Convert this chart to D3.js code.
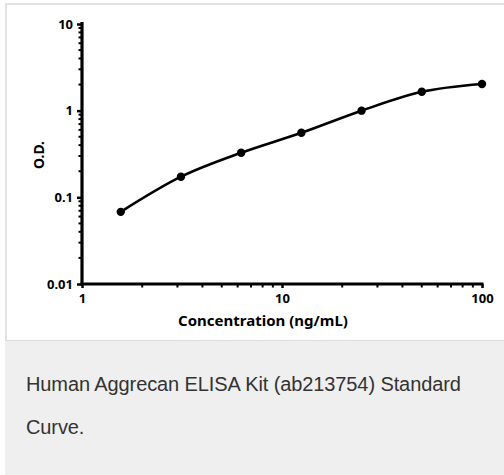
<!DOCTYPE html>
<html>
<head>
<meta charset="utf-8">
<script src="https://cdn.jsdelivr.net/npm/d3@7"></script>
<style>
  body { margin: 0; background: #fff; width: 504px; height: 475px; overflow: hidden; position: relative; }
  #frame { position: absolute; left: 5px; top: 3px; width: 520px; height: 337px; border-top: 2px solid #e2e2e2; border-left: 2px solid #e2e2e2; box-sizing: border-box; }
  #svg1 { position: absolute; left: 0; top: 0; }
  #caption { position: absolute; left: 5px; top: 340px; width: 520px; height: 135px; background: #eeefee; border-top: 1px solid #dcdcdc; box-sizing: border-box;
    font-family: "Liberation Sans", Arial, sans-serif; font-size: 20px; color: #333; line-height: 43px; padding: 22px 0 0 21px; letter-spacing: -0.1px; }
</style>
</head>
<body>
<div id="frame"></div>
<svg id="svg1" width="504" height="340"></svg>
<div id="caption">Human Aggrecan ELISA Kit (ab213754) Standard<br>Curve.</div>
<script>
    // standard curve values
    var concentration = [1.5625, 3.125, 6.25, 12.5, 25, 50, 100];
    var od = [0.068, 0.173, 0.327, 0.556, 1.0, 1.65, 2.03];
    var xTicks = [1, 10, 100];
    var yTicks = [0.01, 0.1, 1, 10];
    var xLabel = "Concentration (ng/mL)";
    var yLabel = "O.D.";

    var svg = d3.select("#svg1");
    var font = "'Noto Sans', 'DejaVu Sans', sans-serif";

    var x = d3.scaleLog().domain([1, 100]).range([82, 482]);
    var y = d3.scaleLog().domain([0.01, 10]).range([284, 24]);

    // minor ticks
    var minorX = [], minorY = [];
    [1, 10].forEach(function (d) { for (var i = 2; i <= 9; i++) minorX.push(d * i); });
    [0.01, 0.1, 1].forEach(function (d) { for (var i = 2; i <= 9; i++) minorY.push(d * i); });

    svg.selectAll(".mx").data(minorX).enter().append("line")
        .attr("x1", function (d) { return x(d); }).attr("x2", function (d) { return x(d); })
        .attr("y1", 284).attr("y2", 287.5)
        .attr("stroke", "#000").attr("stroke-width", 2);
    svg.selectAll(".my").data(minorY).enter().append("line")
        .attr("y1", function (d) { return y(d); }).attr("y2", function (d) { return y(d); })
        .attr("x1", 78.5).attr("x2", 82)
        .attr("stroke", "#000").attr("stroke-width", 2);

    var xAxis = d3.axisBottom(x).tickValues(xTicks).tickFormat(d3.format("")).tickSize(4).tickPadding(6);
    var yAxis = d3.axisLeft(y).tickValues(yTicks).tickFormat(function (d) { return d; }).tickSize(5).tickPadding(4);

    var gx = svg.append("g").attr("transform", "translate(0,284)").call(xAxis);
    var gy = svg.append("g").attr("transform", "translate(82,0)").call(yAxis);

    [gx, gy].forEach(function (g) {
        g.select(".domain").attr("stroke", "#000").attr("stroke-width", 3.2);
        g.selectAll(".tick line").attr("stroke", "#000").attr("stroke-width", 2.5);
        g.selectAll(".tick text").attr("fill", "#000").style("font-family", font)
            .style("font-size", "13px").style("font-weight", "bold");
    });
    gx.select(".domain").attr("d", "M80.5,0H483.5");
    gy.select(".domain").attr("d", "M0,285.5V22");

    // curve
    var pts = concentration.map(function (c, i) { return [x(c), y(od[i])]; });
    svg.append("path")
        .attr("d", d3.line().curve(d3.curveMonotoneX)(pts))
        .attr("fill", "none").attr("stroke", "#000").attr("stroke-width", 2.6);

    svg.selectAll(".pt").data(pts).enter().append("circle")
        .attr("cx", function (d) { return d[0]; })
        .attr("cy", function (d) { return d[1]; })
        .attr("r", 4.2).attr("fill", "#000");

    svg.append("text").attr("x", 263).attr("y", 326).attr("text-anchor", "middle")
        .style("font-family", font).style("font-size", "15px").style("font-weight", "bold")
        .text(xLabel);
    svg.append("text").attr("transform", "translate(44,155) rotate(-90)").attr("text-anchor", "middle")
        .style("font-family", font).style("font-size", "14px").style("font-weight", "bold")
        .text(yLabel);
</script>
</body>
</html>
